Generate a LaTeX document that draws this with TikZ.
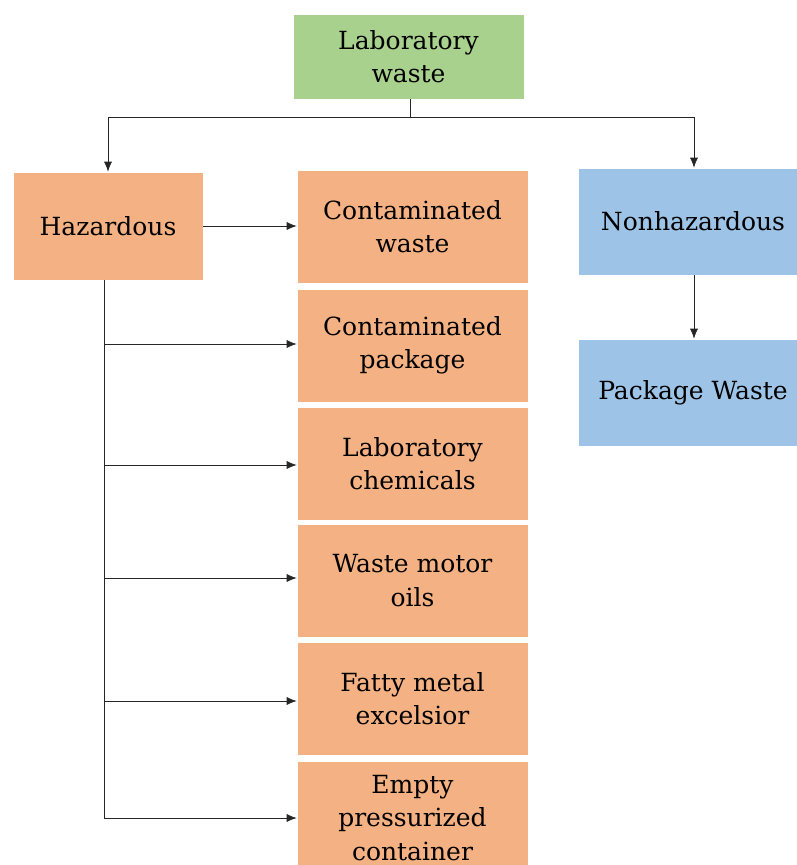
\documentclass[tikz,border=0pt]{standalone}
\usepackage{fontspec}
\setmainfont{DejaVu Serif}
\usetikzlibrary{arrows.meta}
\definecolor{cgreen}{HTML}{A9D18E}
\definecolor{corange}{HTML}{F4B183}
\definecolor{cblue}{HTML}{9DC3E6}
\begin{document}
\begin{tikzpicture}[x=1pt,y=-1pt,
  box/.style={fill=#1, draw=white, line width=0.6pt, inner sep=0pt, align=center,
    font=\fontsize{25}{33.5}\selectfont},
  conn/.style={draw=black!85, line width=0.7pt},
  arr/.style={conn, -{Latex[length=10pt,width=8pt]}}]
\useasboundingbox (0,0) rectangle (797,865);
\clip (0,0) rectangle (797,865);
\node[box=cgreen, minimum width=231, minimum height=85] (top) at (408.5,56.5) {Laboratory\\waste};
\node[box=corange, minimum width=190, minimum height=108] (haz) at (108,226) {Hazardous};
\node[box=cblue, minimum width=230, minimum height=107] (non) at (693,221.5) {Nonhazardous};
\node[box=cblue, minimum width=230, minimum height=107] (pack) at (693,392.5) {Package Waste};
\node[box=corange, minimum width=231, minimum height=113] (c1) at (412.5,226.5) {Contaminated\\waste};
\node[box=corange, minimum width=231, minimum height=113] (c2) at (412.5,345.5) {Contaminated\\package};
\node[box=corange, minimum width=231, minimum height=113] (c3) at (412.5,463.5) {Laboratory\\chemicals};
\node[box=corange, minimum width=231, minimum height=113] (c4) at (412.5,580.5) {Waste motor\\oils};
\node[box=corange, minimum width=231, minimum height=113] (c5) at (412.5,698.5) {Fatty metal\\excelsior};
\node[box=corange, minimum width=231, minimum height=114] (c6) at (412.5,818) {Empty\\pressurized\\container};
\coordinate (j) at (410,117);
\coordinate (jl) at (108,117);
\coordinate (jr) at (694,117);
\draw[conn] (top.south -| j) -- (j);
\draw[arr] (j) -- (jl) -- (haz.north -| jl);
\draw[arr] (j) -- (jr) -- (non.north -| jr);
\draw[arr] (haz.east) -- (c1.west |- haz.east);
\coordinate (s) at (104,280);
\coordinate (e) at (104,818);
\draw[conn] (s) -- (e);
\foreach \n/\y in {c2/344,c3/465,c4/578,c5/701,c6/818}
  \draw[arr] (104,\y) -- (\n.west |- 0,\y);
\draw[arr] (non.south -| jr) -- (pack.north -| jr);
\end{tikzpicture}
\end{document}
